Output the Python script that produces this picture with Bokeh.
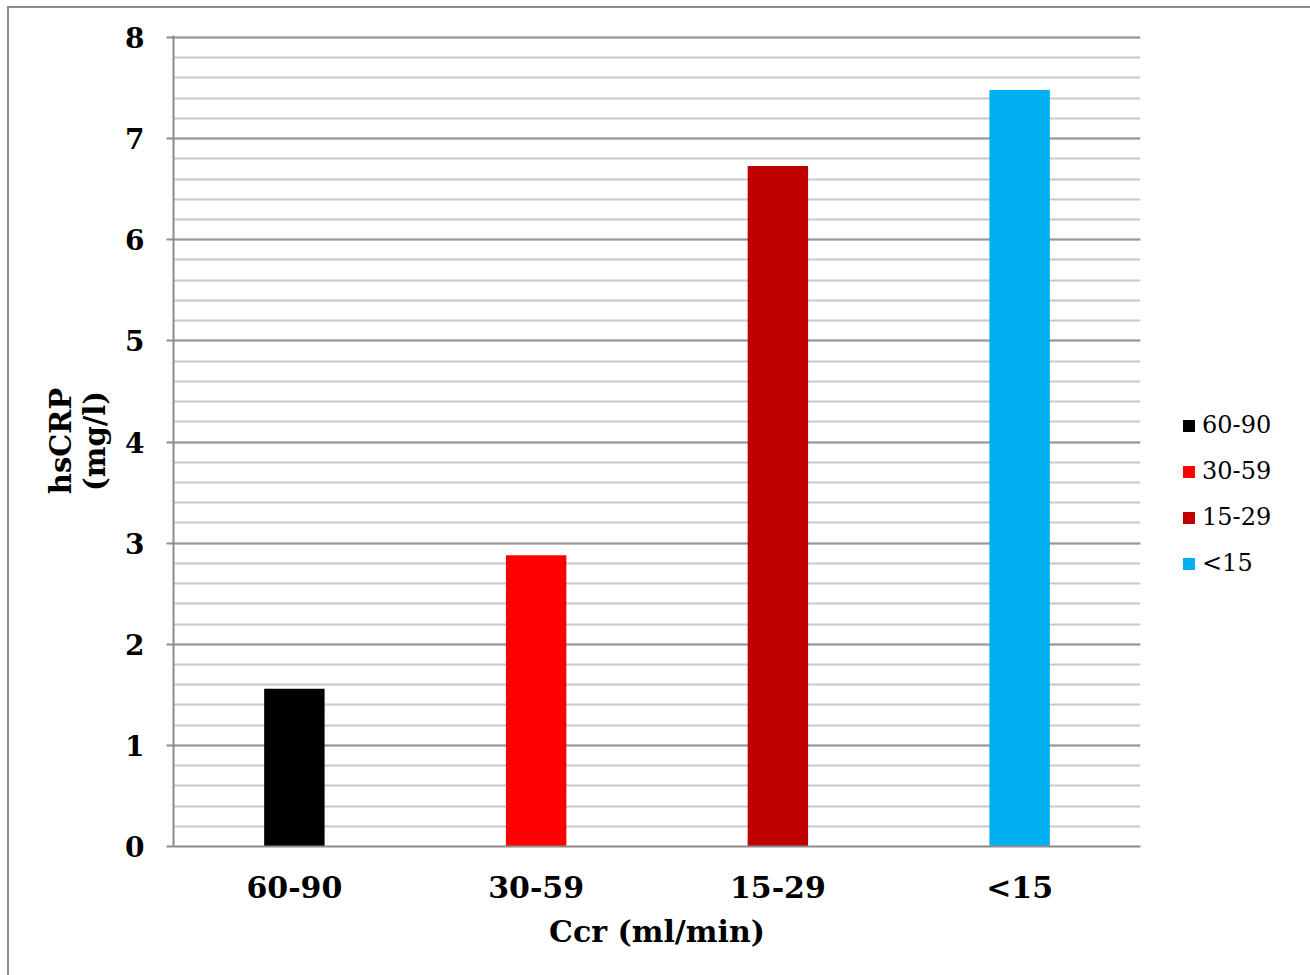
from bokeh.plotting import figure
from bokeh.models import (Legend, LegendItem, SingleIntervalTicker, Range1d)
from bokeh.embed import file_html
from bokeh.resources import INLINE

# Creatinine clearance groups and mean hsCRP per group
categories = ["60-90", "30-59", "15-29", "<15"]
hscrp = [1.56, 2.88, 6.73, 7.48]
bar_colors = ["#000000", "#FF0000", "#C00000", "#00B0F0"]

SERIF = "DejaVu Serif"

p = figure(width=1297, height=969, frame_width=967, frame_height=811,
           x_range=categories, y_range=Range1d(0, 8.02),
           output_backend="svg", toolbar_location=None,
           min_border_left=164, min_border_right=160,
           min_border_top=27, min_border_bottom=131)
p.margin = (6, 0, 0, 7)
p.background_fill_color = "white"
p.border_fill_color = "white"
p.outline_line_color = None
p.styles = {"border-top": "2px solid #8c8c8c", "border-left": "2px solid #8c8c8c",
            "border-right": "2px solid #8c8c8c"}

renderers = []
for i, c in enumerate(categories):
    r = p.vbar(x=[c], top=[hscrp[i]], width=0.25, color=bar_colors[i], line_color=None)
    renderers.append(r)

# y axis: major ticks every 1, minor grid every 0.2
p.yaxis.ticker = SingleIntervalTicker(interval=1, num_minor_ticks=5)
p.ygrid.grid_line_color = "#9a9a9a"
p.ygrid.grid_line_width = 2
p.ygrid.minor_grid_line_color = "#c8c8c8"
p.ygrid.minor_grid_line_width = 2
p.xgrid.grid_line_color = None

p.yaxis.axis_line_color = "#8c8c8c"
p.yaxis.axis_line_width = 2
p.yaxis.major_tick_line_color = "#8c8c8c"
p.yaxis.major_tick_line_width = 2
p.yaxis.major_tick_out = 7
p.yaxis.major_tick_in = 0
p.yaxis.minor_tick_line_color = None
p.yaxis.major_label_text_font = SERIF
p.yaxis.major_label_text_font_style = "bold"
p.yaxis.major_label_text_font_size = "28px"
p.yaxis.major_label_text_color = "black"
p.yaxis.major_label_standoff = 22
p.yaxis.axis_label = "hsCRP\n(mg/l)"
p.yaxis.axis_label_text_font = SERIF
p.yaxis.axis_label_text_font_style = "bold"
p.yaxis.axis_label_text_font_size = "29px"
p.yaxis.axis_label_text_line_height = 1.0
p.yaxis.axis_label_text_color = "black"
p.yaxis.axis_label_standoff = 10

p.xaxis.axis_line_color = "#8c8c8c"
p.xaxis.axis_line_width = 2
p.xaxis.major_tick_line_color = None
p.xaxis.minor_tick_line_color = None
p.xaxis.major_label_text_font = SERIF
p.xaxis.major_label_text_font_style = "bold"
p.xaxis.major_label_text_font_size = "30px"
p.xaxis.major_label_text_color = "black"
p.xaxis.major_label_standoff = 17
p.xaxis.axis_label = "Ccr (ml/min)"
p.xaxis.axis_label_text_font = SERIF
p.xaxis.axis_label_text_font_style = "bold"
p.xaxis.axis_label_text_font_size = "30px"
p.xaxis.axis_label_text_color = "black"
p.xaxis.axis_label_standoff = 6

legend = Legend(items=[LegendItem(label=c, renderers=[r]) for c, r in zip(categories, renderers)],
                location=(41, 269), orientation="vertical",
                glyph_width=15, glyph_height=15, label_height=20,
                spacing=18, padding=0, margin=0, label_standoff=6,
                label_text_font=SERIF, label_text_font_size="24px",
                label_text_color="black", border_line_color=None,
                background_fill_alpha=0)
p.add_layout(legend, "right")

open("out.html", "w").write(file_html(p, INLINE))
